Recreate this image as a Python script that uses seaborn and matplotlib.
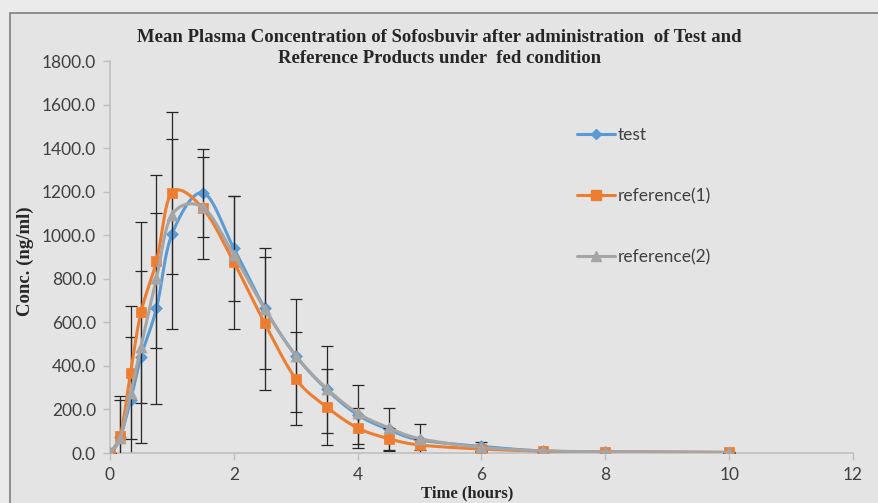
import numpy as np
import pandas as pd
import seaborn as sns
import matplotlib
matplotlib.use("Agg")
import matplotlib.pyplot as plt
from matplotlib.lines import Line2D
from matplotlib.patches import Rectangle

# ---------------- data ----------------
times = [0, 0.167, 0.333, 0.5, 0.75, 1, 1.5, 2, 2.5, 3, 3.5, 4, 4.5, 5, 6, 7, 8, 10]
test = [0, 75, 243, 442, 664, 1004, 1195, 940, 664, 447, 292, 175, 108, 60, 30, 9, 5, 2]
test_sd = [0, 170, 288, 394, 438, 436, 201, 240, 276, 259, 200, 135, 100, 74, 22, 5, 2, 1]
ref1 = [0, 80, 369, 646, 880, 1195, 1123, 876, 595, 341, 211, 115, 66, 37, 18, 9, 5, 3]
ref1_sd = [0, 182, 307, 416, 396, 372, 234, 305, 306, 213, 176, 93, 50, 25, 12, 5, 2, 1]
ref2 = [0, 70, 274, 488, 802, 1093, 1128, 909, 660, 447, 296, 183, 116, 66, 26, 10, 6, 3]
labels = ["test", "reference(1)", "reference(2)"]
title = ("Mean Plasma Concentration of Sofosbuvir after administration  of Test and\n"
         "Reference Products under  fed condition")

colors = ["#5B9BD5", "#ED7D31", "#A5A5A5"]
markers = ["D", "s", "^"]
msizes = [6, 7.5, 8]

sns.set_theme(style="white")
plt.rcParams["font.family"] = ["Lato", "DejaVu Sans"]

W, H = 879, 503
fig = plt.figure(figsize=(W / 100, H / 100), dpi=100)
fig.patch.set_facecolor("#EBEBEB")
fig.patches.append(Rectangle((10 / W, -0.1), 1.2, 1 - 13 / H + 0.1,
                             transform=fig.transFigure, facecolor="#E4E4E4",
                             edgecolor="#7F7F7F", lw=1.2, zorder=-5))

ax = fig.add_axes([110 / W, 1 - 453 / H, (853 - 110) / W, (453 - 61) / H])
ax.set_zorder(2)
ax.patch.set_alpha(0)


def smooth(x, y, n=30):
    P = np.column_stack([x, y]).astype(float)
    m = len(P)
    out = []
    for i in range(m - 1):
        p0 = P[max(i - 1, 0)]
        p1 = P[i]
        p2 = P[i + 1]
        p3 = P[min(i + 2, m - 1)]
        b1 = p1 + (p2 - p0) / 6
        b2 = p2 - (p3 - p1) / 6
        t = np.linspace(0, 1, n, endpoint=(i == m - 2))[:, None]
        seg = ((1 - t) ** 3) * p1 + 3 * ((1 - t) ** 2) * t * b1 + 3 * (1 - t) * t ** 2 * b2 + t ** 3 * p2
        out.append(seg)
    out = np.vstack(out)
    return out[:, 0], out[:, 1]


series = [test, ref1, ref2]
sds = [test_sd, ref1_sd, None]
for k, (vals, sd) in enumerate(zip(series, sds)):
    sx, sy = smooth(times, vals)
    sns.lineplot(x=sx, y=sy, sort=False, estimator=None, color=colors[k], lw=2.2,
                 ax=ax, zorder=3 + k)
    if sd is not None:
        ax.errorbar(times, vals, yerr=sd, fmt="none", ecolor="#262626", elinewidth=0.9,
                    capsize=4, capthick=0.9, zorder=2.5 + k)
    df = pd.DataFrame({"t": times, "c": vals})
    sns.scatterplot(data=df, x="t", y="c", marker=markers[k], color=colors[k],
                    s=msizes[k] ** 2, edgecolor=colors[k], linewidth=0.5, ax=ax, zorder=3.5 + k)

ax.set_xlim(0, 12)
ax.set_ylim(0, 1800)
ax.set_xticks(np.arange(0, 13, 2))
ax.set_yticks(np.arange(0, 1801, 200))
ax.set_yticklabels([f"{v:.1f}" for v in np.arange(0, 1801, 200)])
for s in ["top", "right"]:
    ax.spines[s].set_visible(False)
for s in ["left", "bottom"]:
    ax.spines[s].set_color("#BFBFBF")
    ax.spines[s].set_linewidth(1.2)
ax.tick_params(axis="both", which="major", direction="out", length=5, width=1,
               color="#BFBFBF", labelsize=12.5, labelcolor="#404040", pad=5,
               bottom=True, left=True)
ax.set_xlabel("")
ax.set_ylabel("")

fig.text(0.5, 1 - 48 / H, title, ha="center", va="center", family="Liberation Serif",
         fontweight="bold", fontsize=13.5, color="#262626", linespacing=1.35)
fig.text(467 / W, 1 - 493 / H, "Time (hours)", ha="center", va="center",
         family="Liberation Serif", fontweight="bold", fontsize=12, color="#262626")
fig.text(25 / W, 1 - 261 / H, "Conc. (ng/ml)", ha="center", va="center", rotation=90,
         family="Liberation Serif", fontweight="bold", fontsize=13.5, color="#262626")

handles = [Line2D([0], [0], color=colors[k], lw=2.2, marker=markers[k],
                  markersize=msizes[k] - 1, markeredgecolor=colors[k]) for k in range(3)]
leg = ax.legend(handles, labels, loc="upper left",
                bbox_to_anchor=((568 - 110) / (853 - 110), (453 - 118) / (453 - 61)),
                frameon=False, fontsize=12.5, labelspacing=2.6, handlelength=2.2,
                handletextpad=0.15, borderpad=0, labelcolor="#404040")

fig.savefig("out.png", dpi=100, facecolor=fig.get_facecolor())
